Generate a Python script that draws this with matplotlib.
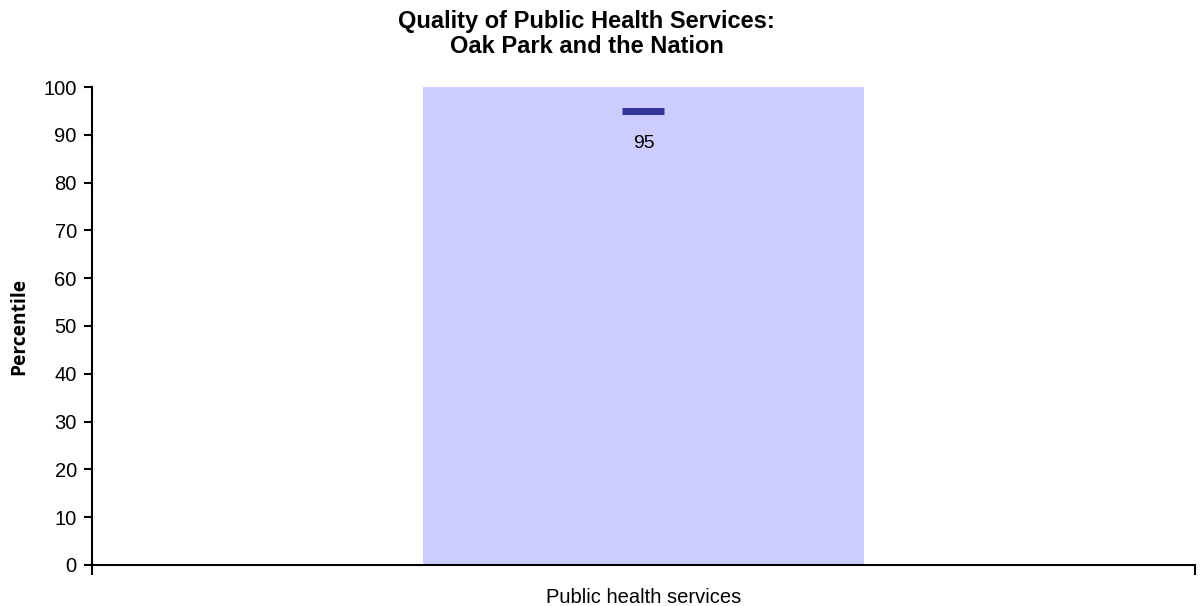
import matplotlib

matplotlib.use("Agg")
from matplotlib import pyplot as plt

categories = ["Public health services"]
percentile_range = [100]
oak_park_score = [95]
y_ticks = list(range(0, 101, 10))

plt.rcParams["font.family"] = ["Liberation Sans", "DejaVu Sans"]

figure = plt.figure(figsize=(12, 6.06), dpi=100)
axis = figure.add_axes([0.0767, 0.0677, 0.919, 0.7887])

positions = list(range(len(categories)))
axis.bar(positions, percentile_range, width=0.4, color="#CCCCFF", zorder=1)

# score marker: short horizontal dash with its value underneath
for x, value in zip(positions, oak_park_score):
    axis.hlines(value, x - 0.019, x + 0.019, color="#333399", linewidth=5, zorder=2)
    axis.annotate(str(value), (x, value), xytext=(0, -17), textcoords="offset points",
                  ha="center", va="top", fontsize=14)

axis.set_xlim(-0.5, len(categories) - 0.5)
axis.set_ylim(0, 100)
axis.set_yticks(y_ticks)
axis.tick_params(axis="y", direction="out", length=6, width=1.5, labelsize=14.5, pad=5)

axis.set_xticks([-0.5, len(categories) - 0.5])
axis.set_xticklabels(["", ""])
axis.tick_params(axis="x", direction="out", length=7, width=1.5)
for x, name in zip(positions, categories):
    axis.text(x, -0.048, name, transform=axis.get_xaxis_transform(), ha="center", va="top", fontsize=14.5)

axis.spines["top"].set_visible(False)
axis.spines["right"].set_visible(False)
axis.spines["left"].set_linewidth(1.5)
axis.spines["bottom"].set_linewidth(1.5)

axis.set_ylabel("Percentile", family=["Open Sans", "DejaVu Sans"], fontweight="bold",
                fontsize=13.8, labelpad=10)
figure.suptitle("Quality of Public Health Services:\nOak Park and the Nation", x=0.489, y=0.983,
                fontsize=17, fontweight="bold", linespacing=1.1)

figure.savefig("out.png", dpi=100)
plt.close(figure)
